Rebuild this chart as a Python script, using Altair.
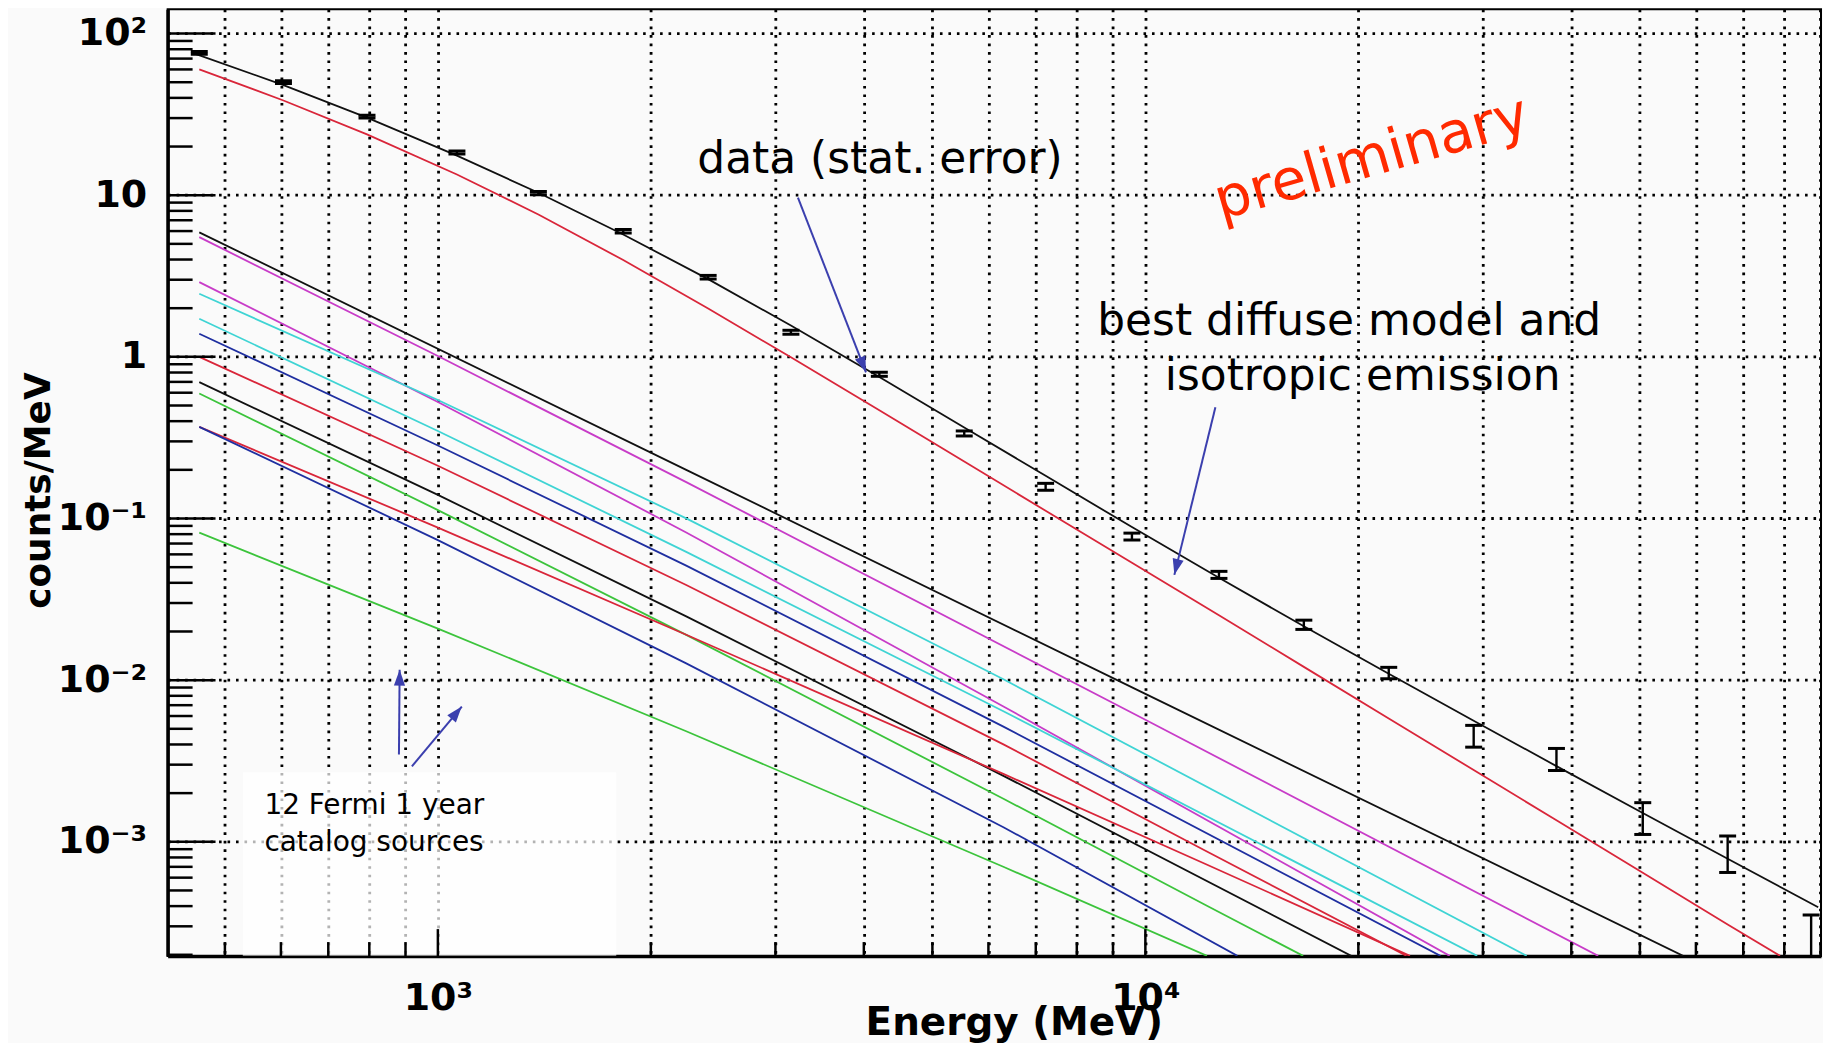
import altair as alt
import pandas as pd

# ---------------- data ----------------
# measured spectrum (counts/MeV) with statistical error bars
data_energy = [460, 605, 794, 1064, 1387, 1828, 2410, 3155, 4207, 5546,
               7228, 9572, 12706, 16749, 22080, 29110, 38110, 50470, 66530, 87300]
data_value = [76, 50.1, 30.6, 18.4, 10.3, 5.98, 3.11, 1.42, 0.780, 0.336,
              0.157, 0.0773, 0.0448, 0.0220, 0.01107, 0.00450, 0.00323, 0.00138, 0.000838, 0.00024]
data_low = [74.5, 49.1, 30.0, 18.0, 10.05, 5.83, 3.03, 1.38, 0.758, 0.324,
            0.1495, 0.0736, 0.0426, 0.0206, 0.0102, 0.00385, 0.00276, 0.00111, 0.000646, 0.00015]
data_high = [77.5, 51.1, 31.2, 18.8, 10.55, 6.13, 3.19, 1.46, 0.803, 0.348,
             0.165, 0.0812, 0.0471, 0.0235, 0.0120, 0.00525, 0.00378, 0.001746, 0.001086, 0.000352]

# model curves: energies (MeV) and counts/MeV
total_E = [450, 605, 794, 1064, 1387, 1828, 2410, 3155, 4207, 5546,
           7228, 9572, 12706, 16749, 22080, 29110, 38110, 50470, 66530, 89330]
total_V = [76.0, 47.97, 30.20, 17.58, 10.35, 5.715, 3.027, 1.563, 0.750, 0.3656,
           0.1837, 0.0885, 0.04295, 0.02153, 0.01094, 0.00561, 0.002938, 0.001507, 0.000785, 0.000394]
diffuse_E = [460, 605, 794, 1064, 1387, 1828, 2410, 3155, 4207, 5546,
             7228, 9572, 12706, 16749, 22080, 29110, 38110, 50470, 66530, 78890]
diffuse_V = [60.1, 38.55, 23.77, 13.43, 7.60, 3.972, 1.991, 0.9931, 0.4667, 0.2249,
             0.1117, 0.05321, 0.02518, 0.01208, 0.005794, 0.00278, 0.001358, 0.000643, 0.000308, 0.000197]
black2_E = [460, 2244, 10000, 57540]
black2_V = [5.89, 0.2000, 0.00822, 0.000197]
magenta1_E = [460, 1000, 2244, 10000, 43650]
magenta1_V = [5.50, 1.012, 0.1679, 0.00569, 0.000197]
magenta2_E = [460, 1000, 2244, 6310, 26920]
magenta2_V = [2.90, 0.526, 0.0820, 0.00685, 0.000197]
cyan1_E = [460, 1000, 2244, 6310, 34590]
cyan1_V = [2.455, 0.541, 0.1002, 0.01009, 0.000197]
cyan2_E = [460, 1000, 2244, 6310, 29440]
cyan2_V = [1.722, 0.348, 0.0622, 0.00640, 0.000197]
blue1_E = [460, 1000, 2244, 6310, 26120]
blue1_V = [1.390, 0.283, 0.0511, 0.00514, 0.000197]
red2_E = [460, 1000, 2244, 6310, 12160, 23390]
red2_V = [1.0, 0.212, 0.0388, 0.00399, 0.000881, 0.000197]
black3_E = [460, 1000, 2244, 6310, 19540]
black3_V = [0.698, 0.140, 0.0248, 0.00255, 0.000197]
green1_E = [460, 1000, 2244, 6310, 12160, 16710]
green1_V = [0.593, 0.1127, 0.01905, 0.00184, 0.000406, 0.000197]
red3_E = [460, 1000, 2244, 6310, 12160, 23660]
red3_V = [0.369, 0.0879, 0.0191, 0.00262, 0.000729, 0.000197]
blue2_E = [460, 1000, 2244, 6310, 13490]
blue2_V = [0.369, 0.0735, 0.0127, 0.001227, 0.000197]
green2_E = [460, 1000, 2244, 6310, 12220]
green2_V = [0.0817, 0.02084, 0.00483, 0.000698, 0.000197]

series_names = ["total", "diffuse", "black2", "magenta1", "magenta2", "cyan1", "cyan2",
                "blue1", "red2", "black3", "green1", "red3", "blue2", "green2"]
series_colors = ["#111111", "#d9263a", "#111111", "#c83cc8", "#c83cc8", "#3fd4d4", "#3fd4d4",
                 "#1f2fa0", "#d9263a", "#111111", "#3cc43c", "#d9263a", "#1f2fa0", "#3cc43c"]
series_data = [(total_E, total_V), (diffuse_E, diffuse_V), (black2_E, black2_V),
               (magenta1_E, magenta1_V), (magenta2_E, magenta2_V), (cyan1_E, cyan1_V),
               (cyan2_E, cyan2_V), (blue1_E, blue1_V), (red2_E, red2_V), (black3_E, black3_V),
               (green1_E, green1_V), (red3_E, red3_V), (blue2_E, blue2_V), (green2_E, green2_V)]

# axis ticks / grid
x_grid = [500, 600, 700, 800, 900, 1000, 2000, 3000, 4000, 5000, 6000, 7000, 8000, 9000,
          10000, 20000, 30000, 40000, 50000, 60000, 70000, 80000, 90000]
x_major = [1000, 10000]
x_minor = [v for v in x_grid if v not in x_major]
y_grid = [0.001, 0.01, 0.1, 1, 10, 100]
y_minor = [k * d for d in [1e-4, 1e-3, 1e-2, 1e-1, 1, 10] for k in range(2, 10)]
y_minor = [v for v in y_minor if 1.97e-4 <= v <= 140]

x_domain = [415, 90150]
y_domain = [1.964e-4, 141.6]

# annotations (positions in data units)
arrow_E0 = [3228, 12560, 881, 919]
arrow_V0 = [9.66, 0.4875, 0.003467, 0.00293]
arrow_E1 = [4028, 10990, 883, 1081]
arrow_V1 = [0.802, 0.0448, 0.01161, 0.00686]
arrow_angle = [158.8, 193.7, 0.5, 39.8]

# ---------------- build ----------------
xs = alt.Scale(type="log", domain=x_domain, nice=False)
ys = alt.Scale(type="log", domain=y_domain, nice=False)

FONT_B = "DejaVu Sans"
GRID = dict(grid=True, gridDash=[2.6, 5.9], gridColor="black", gridWidth=2.8, gridOpacity=1)

x_axis = alt.Axis(values=x_grid, ticks=False, domain=True, domainColor="black", domainWidth=3.5,
                  labelExpr="datum.value == 1000 ? '10³' : datum.value == 10000 ? '10⁴' : ''",
                  labelFont=FONT_B, labelFontWeight="bold", labelFontSize=38, labelColor="black",
                  labelPadding=24, labelFlush=False, labelOverlap=False,
                  title="Energy (MeV)", titleFont=FONT_B, titleFontWeight="bold", titleFontSize=39,
                  titleColor="black", titleX=997, titleY=79, titleAlign="right",
                  titleBaseline="alphabetic", **GRID)
y_axis = alt.Axis(values=y_grid, ticks=False, domain=True, domainColor="black", domainWidth=3.5,
                  labelExpr="datum.value > 50 ? '10²' : datum.value > 5 ? '10' : datum.value > 0.5 ? '1' : datum.value > 0.05 ? '10⁻¹' : datum.value > 0.005 ? '10⁻²' : '10⁻³'",
                  labelFont=FONT_B, labelFontWeight="bold", labelFontSize=38, labelColor="black",
                  labelPadding=21, labelFlush=False, labelOverlap=False,
                  title="counts/MeV", titleFont=FONT_B, titleFontWeight="bold", titleFontSize=36,
                  titleColor="black", titleAngle=270, titleX=-129, titleY=482,
                  titleAlign="center", titleBaseline="middle", **GRID)


def X(f="E"):
    return alt.X(f"{f}:Q", scale=xs, axis=x_axis)


def Y(f="V"):
    return alt.Y(f"{f}:Q", scale=ys, axis=y_axis)


rows = []
for name, (E, V) in zip(series_names, series_data):
    for e, v in zip(E, V):
        rows.append({"series": name, "E": e, "V": v})
lines_df = pd.DataFrame(rows)

data_df = pd.DataFrame({"E": data_energy, "V": data_value, "lo": data_low, "hi": data_high})

lines = alt.Chart(lines_df).mark_line(strokeWidth=1.8, clip=True).encode(
    x=X(), y=Y(),
    color=alt.Color("series:N", scale=alt.Scale(domain=series_names, range=series_colors), legend=None),
    detail="series:N",
    order=alt.Order("E:Q"),
)

err = alt.Chart(data_df).mark_rule(color="black", strokeWidth=2.4, clip=True).encode(
    x=X(), y=Y("lo"), y2="hi:Q")
cap_lo = alt.Chart(data_df).mark_point(shape="M-1,0L1,0", size=289, filled=False, color="black",
                                        strokeWidth=3, opacity=1, clip=True).encode(x=X(), y=Y("lo"))
cap_hi = alt.Chart(data_df).mark_point(shape="M-1,0L1,0", size=289, filled=False, color="black",
                                        strokeWidth=3, opacity=1, clip=True).encode(x=X(), y=Y("hi"))

# inner ticks (ROOT style)
ytick_major = alt.Chart(pd.DataFrame({"V": y_grid})).mark_rule(color="black", strokeWidth=2.5).encode(
    y=Y(), x=alt.value(0), x2=alt.value(48))
ytick_minor = alt.Chart(pd.DataFrame({"V": y_minor})).mark_rule(color="black", strokeWidth=2.5).encode(
    y=Y(), x=alt.value(0), x2=alt.value(25))
xtick_major = alt.Chart(pd.DataFrame({"E": x_major})).mark_rule(color="black", strokeWidth=2.5).encode(
    x=X(), y=alt.value(949), y2=alt.value(949 - 27))
xtick_minor = alt.Chart(pd.DataFrame({"E": x_minor})).mark_rule(color="black", strokeWidth=2.5).encode(
    x=X(), y=alt.value(949), y2=alt.value(949 - 14))

# white box behind the catalog-sources label
box = alt.Chart(pd.DataFrame({"E": [530], "E2": [1787], "V": [0.00269], "V2": [1.97e-4]})).mark_rect(
    color="white", opacity=0.7).encode(x=X(), x2="E2:Q", y=Y(), y2="V2:Q")

arrows_df = pd.DataFrame({"E": arrow_E0, "V": arrow_V0, "E1": arrow_E1, "V1": arrow_V1, "angle": arrow_angle})
arrow_lines = alt.Chart(arrows_df).mark_rule(color="#3b3fae", strokeWidth=2).encode(
    x=X(), y=Y(), x2="E1:Q", y2="V1:Q")
arrow_heads = alt.Chart(arrows_df).mark_point(shape="M0,0L-0.7,2L0.7,2Z", size=256, filled=True,
                                              color="#3b3fae", opacity=1).encode(
    x=X("E1"), y=Y("V1"), angle=alt.Angle("angle:Q", scale=None))

big_notes = pd.DataFrame({
    "E": [4216, 19410, 20280],
    "V": [13.8, 1.358, 0.621],
    "text": ["data (stat. error)", "best diffuse model and", "isotropic emission"],
})
big_text = alt.Chart(big_notes).mark_text(font="DejaVu Sans", fontSize=44, color="black",
                                          align="center", baseline="alphabetic").encode(
    x=X(), y=Y(), text="text:N")

small_notes = pd.DataFrame({"E": [568.6, 568.6], "V": [0.001479, 0.000873],
                            "text": ["12 Fermi 1 year", "catalog sources"]})
small_text = alt.Chart(small_notes).mark_text(font="DejaVu Sans", fontSize=28, color="black",
                                              align="left", baseline="alphabetic").encode(
    x=X(), y=Y(), text="text:N")

prelim = alt.Chart(pd.DataFrame({"E": [20890], "V": [16.8], "text": ["preliminary"]})).mark_text(
    font="DejaVu Sans", fontSize=57, color="#ff2a00", angle=344, align="center", baseline="middle").encode(
    x=X(), y=Y(), text="text:N")

chart = alt.layer(
    box, lines, err, cap_lo, cap_hi,
    ytick_major, ytick_minor, xtick_major, xtick_minor,
    arrow_lines, arrow_heads, big_text, small_text, prelim,
).properties(
    width=1657, height=949,
    autosize=alt.AutoSizeParams(type="none"),
    padding={"left": 160, "top": 0, "right": 2, "bottom": 86},
    background="#fafafa",
).configure_view(stroke="black", strokeWidth=2)

chart.save("out.html", embed_options={"renderer": "svg", "actions": False})
